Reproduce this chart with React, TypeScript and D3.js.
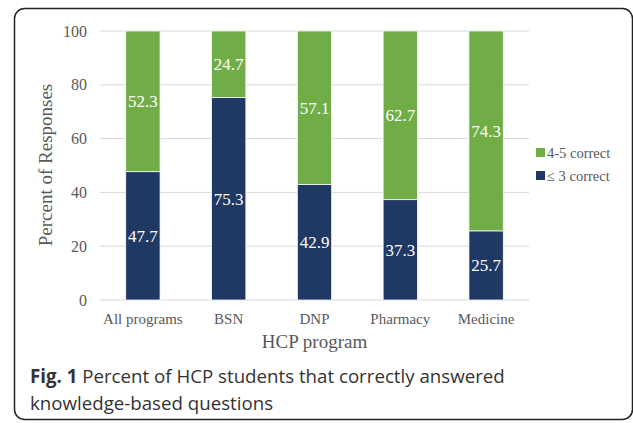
import React, { useEffect, useRef } from 'react';
import * as d3 from 'd3';

const programs = ['All programs', 'BSN', 'DNP', 'Pharmacy', 'Medicine'];
const lowCorrect = [47.7, 75.3, 42.9, 37.3, 25.7];
const highCorrect = [52.3, 24.7, 57.1, 62.7, 74.3];
const yTicks = [0, 20, 40, 60, 80, 100];
const seriesNames = ['4-5 correct', '≤ 3 correct'];

const GREEN = '#70ad47';
const NAVY = '#203864';
const SERIF = 'Liberation Serif, Times New Roman, serif';
const SANS = 'Open Sans, Noto Sans, sans-serif';

const App = () => {
  const svgRef = useRef<SVGSVGElement>(null);

  useEffect(() => {
    const svg = d3.select(svgRef.current);
    svg.selectAll('*').remove();

    // 枠線
    svg.append('rect')
      .attr('x', 14.5).attr('y', 8.5)
      .attr('width', 618).attr('height', 411)
      .attr('rx', 10)
      .attr('fill', 'white')
      .attr('stroke', '#222').attr('stroke-width', 1.5);

    const x = d3.scaleBand().domain(programs).range([100, 529]).paddingInner(0.6).paddingOuter(0.3);
    const y = d3.scaleLinear().domain([0, 100]).range([300, 31]);

    // グリッド
    svg.append('g').selectAll('line')
      .data(yTicks)
      .enter().append('line')
      .attr('x1', 100).attr('x2', 529)
      .attr('y1', d => y(d)).attr('y2', d => y(d))
      .attr('stroke', '#d9d9d9').attr('stroke-width', 1);

    svg.append('g').selectAll('text')
      .data(yTicks)
      .enter().append('text')
      .attr('x', 87).attr('y', d => y(d))
      .attr('dy', '0.35em')
      .attr('text-anchor', 'end')
      .style('font-family', SERIF).style('font-size', '16px')
      .attr('fill', '#595959')
      .text(d => d);

    const rows = programs.map((p, i) => ({ p, low: lowCorrect[i], high: highCorrect[i] }));

    const bars = svg.append('g');
    bars.selectAll('rect.low')
      .data(rows).enter().append('rect')
      .attr('x', d => x(d.p)!).attr('width', x.bandwidth())
      .attr('y', d => y(d.low)).attr('height', d => y(0) - y(d.low))
      .attr('fill', NAVY).attr('stroke', 'white').attr('stroke-width', 0.75);
    bars.selectAll('rect.high')
      .data(rows).enter().append('rect')
      .attr('x', d => x(d.p)!).attr('width', x.bandwidth())
      .attr('y', d => y(d.low + d.high)).attr('height', d => y(d.low) - y(d.low + d.high))
      .attr('fill', GREEN).attr('stroke', 'white').attr('stroke-width', 0.75);

    // 値ラベル
    const lab = svg.append('g');
    const addLabels = (key: 'low' | 'high', mid: (d: any) => number) => {
      lab.selectAll(`text.${key}`)
        .data(rows).enter().append('text')
        .attr('class', key)
        .attr('x', d => x(d.p)! + x.bandwidth() / 2)
        .attr('y', d => y(mid(d))).attr('dy', '0.35em')
        .attr('text-anchor', 'middle')
        .style('font-family', SERIF).style('font-size', '17px')
        .attr('fill', 'white')
        .text(d => d[key].toFixed(1));
    };
    addLabels('low', d => d.low / 2);
    addLabels('high', d => d.low + d.high / 2);

    // カテゴリラベル
    svg.append('g').selectAll('text')
      .data(programs).enter().append('text')
      .attr('x', d => x(d)! + x.bandwidth() / 2)
      .attr('y', 324)
      .attr('text-anchor', 'middle')
      .style('font-family', SERIF).style('font-size', '15px')
      .attr('fill', '#595959')
      .text(d => d);

    svg.append('text')
      .attr('x', 314.5).attr('y', 348)
      .attr('text-anchor', 'middle')
      .style('font-family', SERIF).style('font-size', '19px')
      .attr('fill', '#595959')
      .text('HCP program');

    svg.append('text')
      .attr('transform', 'translate(52,165) rotate(-90)')
      .attr('text-anchor', 'middle')
      .style('font-family', SERIF).style('font-size', '19px')
      .attr('fill', '#595959')
      .text('Percent of Responses');

    // 凡例
    const legend = svg.append('g').selectAll('g')
      .data(seriesNames).enter().append('g')
      .attr('transform', (d, i) => `translate(536,${153 + i * 23})`);
    legend.append('rect')
      .attr('x', 0).attr('y', -5).attr('width', 9).attr('height', 9)
      .attr('fill', (d, i) => (i === 0 ? GREEN : NAVY));
    legend.append('text')
      .attr('x', 11).attr('dy', '0.35em')
      .style('font-family', SERIF).style('font-size', '14.5px')
      .attr('fill', '#595959')
      .text(d => d);

    // キャプション
    const cap = svg.append('text')
      .attr('x', 30).attr('y', 383)
      .style('font-family', SANS).style('font-size', '18.7px')
      .attr('fill', '#333');
    cap.append('tspan').attr('font-weight', 'bold').text('Fig. 1');
    cap.append('tspan').text(' Percent of HCP students that correctly answered');
    svg.append('text')
      .attr('x', 30).attr('y', 410)
      .style('font-family', SANS).style('font-size', '18.7px')
      .attr('fill', '#333')
      .text('knowledge-based questions');
  }, []);

  return (
    <div>
      <style>{'body{margin:0}'}</style>
      <svg ref={svgRef} width={633} height={423} style={{ display: 'block' }} />
    </div>
  );
};

export default App;
